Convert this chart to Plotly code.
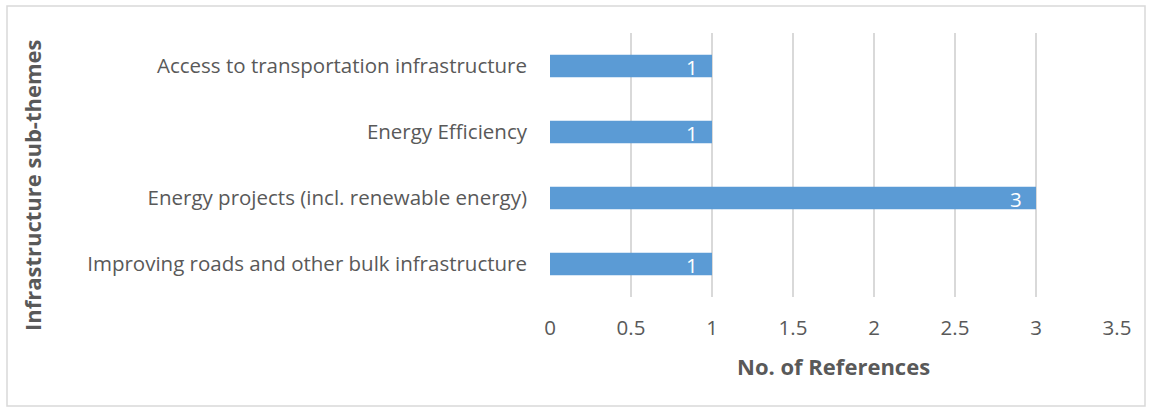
import plotly.graph_objects as go

# Sub-theme categories (top to bottom) and reference counts
categories = [
    "Access to transportation infrastructure",
    "Energy Efficiency",
    "Energy projects (incl. renewable energy)",
    "Improving roads and other bulk infrastructure",
]
references = [1, 1, 3, 1]
x_ticks = [0, 0.5, 1, 1.5, 2, 2.5, 3, 3.5]

W, H = 1152, 412
L, R, T, B = 550, 35, 33, 115

font_family = "'Open Sans', 'Noto Sans', sans-serif"
grey = "#595959"
label_size = 20.5
title_size = 22

fig = go.Figure(
    go.Bar(
        x=references,
        y=categories,
        orientation="h",
        marker=dict(color="#5B9BD5", line=dict(width=0)),
        width=0.34,
        cliponaxis=False,
    )
)

# value labels sitting inside the end of each bar
value_labels = [
    dict(
        text=str(v), x=v, y=c, xref="x", yref="y",
        xanchor="right", yanchor="middle", xshift=-12, yshift=-1,
        showarrow=False,
        font=dict(color="white", size=label_size, family=font_family),
    )
    for c, v in zip(categories, references)
]

fig.update_layout(
    width=W,
    height=H,
    margin=dict(l=L, r=R, t=T, b=B),
    paper_bgcolor="white",
    plot_bgcolor="white",
    showlegend=False,
    font=dict(family=font_family, color=grey, size=label_size),
    xaxis=dict(
        range=[0, 3.5],
        tickvals=x_ticks,
        ticktext=[f"{v:g}" for v in x_ticks],
        showgrid=True,
        gridcolor="#D9D9D9",
        gridwidth=1.5,
        zeroline=False,
        showline=False,
        ticks="",
        ticklabelstandoff=16,
        tickfont=dict(size=label_size, color=grey),
    ),
    yaxis=dict(
        categoryorder="array",
        categoryarray=categories[::-1],
        showgrid=False,
        zeroline=False,
        showline=False,
        ticks="",
        ticklabelstandoff=22,
        tickfont=dict(size=label_size, color=grey),
    ),
    annotations=value_labels + [
        dict(
            text="<b>No. of References</b>",
            xref="paper", yref="paper",
            x=(833 - L) / (W - L - R), y=-(366 - (H - B)) / (H - T - B),
            xanchor="center", yanchor="middle",
            showarrow=False,
            font=dict(size=title_size, color=grey, family=font_family),
        ),
        dict(
            text="<b>Infrastructure sub-themes</b>",
            xref="paper", yref="paper",
            x=-(L - 32) / (W - L - R), y=(H - B - 185) / (H - T - B),
            xanchor="center", yanchor="middle",
            textangle=-90,
            showarrow=False,
            font=dict(size=title_size, color=grey, family=font_family),
        ),
    ],
    shapes=[
        dict(
            type="rect",
            xref="paper", yref="paper",
            x0=-(L - 7) / (W - L - R), x1=1 + (R - 7) / (W - L - R),
            y0=-(B - 6) / (H - T - B), y1=1 + (T - 6) / (H - T - B),
            line=dict(color="#D9D9D9", width=1.5),
            fillcolor="rgba(0,0,0,0)",
            layer="below",
        )
    ],
)

fig.write_html("out.html")
